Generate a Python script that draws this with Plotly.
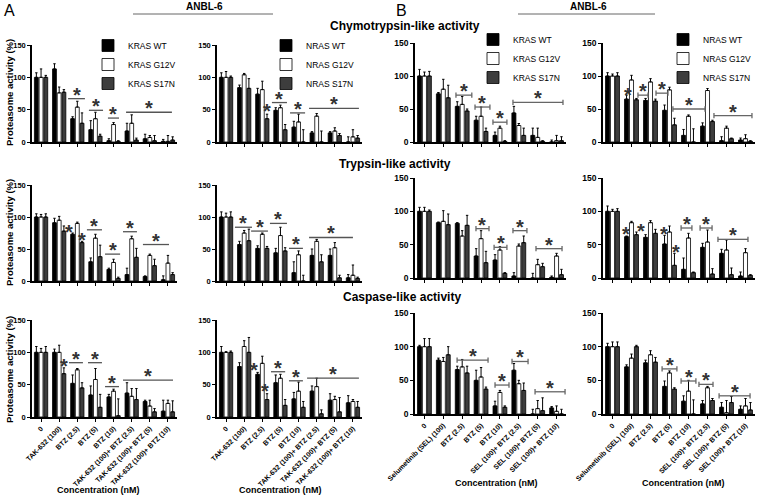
import plotly.graph_objects as go

W, H = 757, 498

# ---------------- data ----------------
cat_A = ["0", "TAK-632 (100)", "BTZ (2.5)", "BTZ (5)", "BTZ (10)",
         "TAK-632 (100)+ BTZ (2.5)", "TAK-632 (100)+ BTZ (5)", "TAK-632 (100)+ BTZ (10)"]
cat_B = ["0", "Selumetinib (SEL) (100)", "BTZ (2.5)", "BTZ (5)", "BTZ (10)",
         "SEL (100)+ BTZ (2.5)", "SEL (100)+ BTZ (5)", "SEL (100)+ BTZ (10)"]
series_KRAS = ["KRAS WT", "KRAS G12V", "KRAS S17N"]
series_NRAS = ["NRAS WT", "NRAS G12V", "NRAS S17N"]
activities = ["Chymotrypsin-like activity", "Trypsin-like activity", "Caspase-like activity"]
y_ticks = [0, 50, 100, 150]

# mean proteasome activity (%)  [WT, G12V, S17N] and upper error
A_chymo_KRAS = [[100, 113, 36, 19, 2, 17, 5, 1],
                [100, 76, 54, 36, 27, 29, 7, 1],
                [100, 77, 29, 9, 1, 3, 2, 3]]
A_chymo_KRAS_err = [[7, 8, 3, 14, 3, 12, 7, 3],
                    [13, 9, 9, 10, 3, 13, 3, 9],
                    [3, 4, 16, 3, 1, 3, 8, 5]]
A_chymo_NRAS = [[100, 84, 74, 49, 23, 14, 14, 0],
                [100, 104, 81, 53, 31, 40, 17, 8],
                [100, 83, 36, 19, 0, 0, 10, 6]]
A_chymo_NRAS_err = [[7, 4, 9, 4, 9, 2, 2, 8],
                    [9, 2, 13, 4, 12, 4, 5, 11],
                    [2, 15, 7, 8, 19, 17, 3, 4]]
B_chymo_KRAS = [[100, 73, 54, 33, 10, 44, 10, 0],
                [100, 80, 57, 39, 21, 25, 7, 2],
                [100, 67, 47, 16, 1, 10, 1, 2]]
B_chymo_KRAS_err = [[10, 2, 7, 6, 5, 10, 11, 3],
                    [6, 15, 12, 14, 3, 3, 14, 8],
                    [7, 19, 3, 5, 1, 11, 1, 6]]
B_chymo_NRAS = [[100, 65, 63, 48, 10, 24, 2, 3],
                [100, 94, 91, 79, 39, 78, 21, 5],
                [100, 64, 62, 26, 0, 31, 5, 1]]
B_chymo_NRAS_err = [[5, 6, 3, 8, 9, 5, 6, 3],
                    [3, 7, 5, 4, 2, 3, 3, 6],
                    [5, 2, 3, 10, 20, 2, 1, 1]]

A_tryp_KRAS = [[100, 91, 73, 30, 18, 10, 7, 2],
               [100, 95, 90, 67, 29, 66, 40, 28],
               [100, 78, 60, 38, 4, 37, 24, 10]]
A_tryp_KRAS_err = [[5, 7, 2, 6, 2, 10, 1, 6],
                   [4, 6, 2, 6, 5, 4, 2, 12],
                   [5, 8, 2, 18, 2, 14, 10, 3]]
A_tryp_NRAS = [[100, 57, 51, 44, 13, 40, 40, 5],
               [100, 75, 73, 71, 41, 62, 52, 9],
               [100, 63, 51, 47, 0, 30, 5, 4]]
A_tryp_NRAS_err = [[8, 5, 4, 7, 17, 10, 10, 5],
                   [6, 4, 2, 13, 6, 3, 8, 16],
                   [8, 18, 3, 5, 9, 11, 4, 2]]
B_tryp_KRAS = [[100, 83, 82, 33, 27, 3, 0, 1],
               [100, 85, 63, 59, 42, 48, 20, 33],
               [100, 80, 79, 23, 7, 53, 17, 5]]
B_tryp_KRAS_err = [[6, 1, 1, 11, 8, 5, 7, 2],
                   [6, 16, 8, 12, 5, 3, 8, 4],
                   [2, 16, 15, 17, 1, 10, 5, 8]]
B_tryp_NRAS = [[100, 62, 61, 51, 13, 46, 37, 3],
               [100, 83, 83, 69, 60, 54, 42, 38],
               [100, 65, 67, 19, 8, 6, 5, 4]]
B_tryp_NRAS_err = [[8, 1, 4, 13, 17, 6, 6, 6],
                   [3, 2, 3, 9, 7, 18, 15, 6],
                   [4, 4, 6, 18, 1, 8, 10, 1]]

A_casp_KRAS = [[100, 100, 52, 34, 31, 37, 24, 9],
               [100, 100, 73, 58, 40, 32, 17, 21],
               [100, 67, 45, 15, 2, 27, 8, 8]]
A_casp_KRAS_err = [[9, 5, 13, 14, 4, 16, 2, 17],
                   [6, 11, 2, 17, 3, 12, 9, 5],
                   [9, 9, 8, 20, 26, 17, 5, 17]]
A_casp_NRAS = [[100, 78, 66, 53, 28, 40, 26, 22],
               [100, 109, 83, 60, 40, 47, 27, 24],
               [100, 100, 27, 18, 15, 5, 8, 15]]
A_casp_NRAS_err = [[9, 6, 3, 12, 10, 8, 10, 11],
                   [1, 9, 11, 6, 14, 13, 5, 3],
                   [2, 23, 9, 9, 9, 6, 22, 9]]
B_casp_KRAS = [[100, 80, 66, 50, 12, 65, 0, 9],
               [100, 78, 70, 55, 32, 45, 8, 4],
               [100, 88, 61, 37, 10, 35, 5, 0]]
B_casp_KRAS_err = [[2, 3, 5, 15, 7, 10, 7, 2],
                   [12, 6, 11, 14, 3, 5, 12, 8],
                   [12, 12, 10, 3, 2, 11, 19, 7]]
B_casp_NRAS = [[100, 70, 76, 41, 19, 15, 10, 7],
               [100, 83, 88, 61, 34, 39, 2, 12],
               [100, 100, 77, 37, 0, 20, 17, 6]]
B_casp_NRAS_err = [[5, 3, 4, 8, 8, 5, 7, 5],
                   [7, 6, 6, 3, 16, 2, 18, 11],
                   [7, 2, 7, 2, 21, 3, 9, 11]]

# significance brackets (from group, to group, level) and lone stars (group, level)
A_chymo_KRAS_sig = [(1.49, 2.42, 67), (2.64, 3.42, 49), (3.69, 4.30, 37), (4.69, 7.22, 46)]
A_chymo_NRAS_sig = [(2.53, 3.36, 61), (3.53, 4.36, 45), (4.58, 7.33, 52)]
B_chymo_KRAS_sig = [(1.67, 2.51, 71), (2.68, 3.47, 53), (3.63, 4.37, 30), (4.69, 7.34, 60)]
B_chymo_NRAS_sig = [(1.34, 1.87, 71), (2.29, 2.92, 74), (3.18, 4.87, 50), (5.34, 7.34, 40)]
A_tryp_KRAS_sig = [(2.53, 3.36, 80), (3.53, 4.36, 42), (4.52, 5.29, 77), (5.62, 7.06, 57)]
A_tryp_NRAS_sig = [(0.49, 1.43, 84), (1.38, 2.31, 78), (2.42, 3.36, 90), (3.47, 4.24, 51), (4.58, 7.0, 68)]
B_tryp_KRAS_sig = [(2.73, 3.42, 74), (3.69, 4.37, 46), (4.69, 5.43, 71), (5.91, 7.29, 44)]
B_tryp_NRAS_sig = [(3.61, 4.18, 75), (4.61, 5.24, 75), (5.55, 7.13, 58)]
A_casp_KRAS_sig = [(1.54, 2.31, 84), (2.59, 3.36, 84), (3.53, 4.30, 47), (4.52, 7.28, 57)]
A_casp_NRAS_sig = [(2.48, 3.26, 70), (3.47, 4.24, 56), (4.47, 7.33, 60)]
B_casp_KRAS_sig = [(1.73, 3.37, 80), (3.74, 4.48, 43), (4.64, 5.49, 78), (5.86, 7.45, 33)]
B_casp_NRAS_sig = [(2.61, 3.39, 67), (3.61, 4.39, 49), (4.55, 5.29, 44), (5.61, 7.24, 27)]

A_chymo_NRAS_star = [(2.26, 52)]
B_chymo_NRAS_star = [(0.80, 76)]
A_tryp_KRAS_star = [(1.56, 82), (2.24, 68)]
B_tryp_NRAS_star = [(0.71, 70), (1.50, 75), (2.73, 70), (3.34, 44)]
A_casp_KRAS_star = [(1.28, 84)]
A_casp_NRAS_star = [(1.56, 78), (2.15, 45)]

panels = [
    # row 0
    (A_chymo_KRAS, A_chymo_KRAS_err, A_chymo_KRAS_sig, [], cat_A, series_KRAS),
    (A_chymo_NRAS, A_chymo_NRAS_err, A_chymo_NRAS_sig, A_chymo_NRAS_star, cat_A, series_NRAS),
    (B_chymo_KRAS, B_chymo_KRAS_err, B_chymo_KRAS_sig, [], cat_B, series_KRAS),
    (B_chymo_NRAS, B_chymo_NRAS_err, B_chymo_NRAS_sig, B_chymo_NRAS_star, cat_B, series_NRAS),
    # row 1
    (A_tryp_KRAS, A_tryp_KRAS_err, A_tryp_KRAS_sig, A_tryp_KRAS_star, cat_A, series_KRAS),
    (A_tryp_NRAS, A_tryp_NRAS_err, A_tryp_NRAS_sig, [], cat_A, series_NRAS),
    (B_tryp_KRAS, B_tryp_KRAS_err, B_tryp_KRAS_sig, [], cat_B, series_KRAS),
    (B_tryp_NRAS, B_tryp_NRAS_err, B_tryp_NRAS_sig, B_tryp_NRAS_star, cat_B, series_NRAS),
    # row 2
    (A_casp_KRAS, A_casp_KRAS_err, A_casp_KRAS_sig, A_casp_KRAS_star, cat_A, series_KRAS),
    (A_casp_NRAS, A_casp_NRAS_err, A_casp_NRAS_sig, A_casp_NRAS_star, cat_A, series_NRAS),
    (B_casp_KRAS, B_casp_KRAS_err, B_casp_KRAS_sig, [], cat_B, series_KRAS),
    (B_casp_NRAS, B_casp_NRAS_err, B_casp_NRAS_sig, [], cat_B, series_NRAS),
]

# ---------------- layout geometry (pixels) ----------------
col_px = [(32, 177), (217, 362), (415, 566), (603, 755)]
row_px_A = [(45, 142), (185, 281), (320, 417)]
row_px_B = [(43, 142), (178, 278), (313, 414)]
fills = ["#000000", "#ffffff", "#3d3d3d"]
FONT = "Liberation Sans, Arial, sans-serif"

def px_x(p):
    return p / W

def px_y(p):
    return 1 - p / H

fig = go.Figure()
shapes = []
annotations = []
legend_names = ["legend", "legend2", "legend3", "legend4"]

for i, (means, errs, sig, stars, cats, names) in enumerate(panels):
    r, c = divmod(i, 4)
    n = i + 1
    xa = "x" if n == 1 else f"x{n}"
    ya = "y" if n == 1 else f"y{n}"
    for s in range(3):
        fig.add_trace(go.Bar(
            x=cats, y=means[s], name=names[s],
            marker=dict(color=fills[s], line=dict(color="black", width=0.8)),
            error_y=dict(type="data", array=errs[s], arrayminus=[0] * len(errs[s]),
                         symmetric=False, color="black", thickness=1, width=1.2),
            xaxis=xa, yaxis=ya,
            legend=legend_names[c], showlegend=(r == 0),
        ))
    isA = c < 2
    x0, x1 = col_px[c]
    top, bot = (row_px_A if isA else row_px_B)[r]
    tsize = 7.5 if isA else 8.5
    xkey = "xaxis" if n == 1 else f"xaxis{n}"
    ykey = "yaxis" if n == 1 else f"yaxis{n}"
    fig.layout[xkey] = dict(
        domain=[px_x(x0), px_x(x1)], anchor=ya, type="category", automargin=False,
        range=[-0.5, 7.5], showline=True, linecolor="black", linewidth=1.5,
        ticks="outside", ticklen=3, tickwidth=1, tickcolor="black",
        showticklabels=(r == 2), tickangle=-45,
        tickfont=dict(family=FONT, size=7, color="black", weight="bold"),
        showgrid=False, zeroline=False, fixedrange=True)
    fig.layout[ykey] = dict(
        domain=[px_y(bot), px_y(top)], anchor=xa, range=[0, 150], automargin=False,
        tickvals=y_ticks, showline=True, linecolor="black", linewidth=1.5,
        ticks="outside", ticklen=3, tickwidth=1, tickcolor="black",
        tickfont=dict(family=FONT, size=tsize, color="black", weight="bold"),
        showgrid=False, zeroline=False, fixedrange=True)

    line_col = "#555555" if isA else "#666666"
    for (a, b, lvl) in sig:
        shapes.append(dict(type="line", xref=xa, yref=ya, x0=a, x1=b, y0=lvl, y1=lvl,
                           line=dict(color=line_col, width=1.3)))
        if not isA:
            for e in (a, b):
                shapes.append(dict(type="line", xref=xa, yref=ya, x0=e, x1=e,
                                   y0=lvl - 4, y1=lvl + 4,
                                   line=dict(color=line_col, width=1.3)))
        annotations.append(dict(x=(a + b) / 2, y=lvl, xref=xa, yref=ya, text="*",
                                showarrow=False, yanchor="middle", yshift=4,
                                font=dict(family=FONT, size=20, color="#333333", weight="bold")))
    for (a, lvl) in stars:
        annotations.append(dict(x=a, y=lvl, xref=xa, yref=ya, text="*",
                                showarrow=False, yanchor="middle", yshift=-3,
                                font=dict(family=FONT, size=20, color="#333333", weight="bold")))

# titles and labels
def ann(text, x, y, size, bold=True, angle=0, xanchor="center", color="black"):
    annotations.append(dict(text=text, x=px_x(x), y=px_y(y), xref="paper", yref="paper",
                            showarrow=False, xanchor=xanchor, yanchor="middle", textangle=angle,
                            font=dict(family=FONT, size=size, color=color,
                                      weight="bold" if bold else "normal")))

ann("A", 2, 10, 16, bold=False, xanchor="left")
ann("B", 394, 10, 16, bold=False, xanchor="left")
ann("ANBL-6", 204, 7, 10)
ann("ANBL-6", 588, 7, 10)
shapes.append(dict(type="line", xref="paper", yref="paper", x0=px_x(133), x1=px_x(273),
                   y0=px_y(14), y1=px_y(14), line=dict(color="#666666", width=1)))
shapes.append(dict(type="line", xref="paper", yref="paper", x0=px_x(518), x1=px_x(655),
                   y0=px_y(14), y1=px_y(14), line=dict(color="#666666", width=1)))
ann(activities[0], 405, 26, 12)
ann(activities[1], 395, 164, 12)
ann(activities[2], 402, 297, 12)
for yc in (93, 233, 370):
    ann("Proteasome activity (%)", 9, yc, 9.5, angle=-90)
for (xc, yc) in ((98, 490), (280, 490), (496, 483), (683, 483)):
    ann("Concentration (nM)", xc, yc, 9)

legend_pos = [(88, 31), (266, 31), (473, 25), (663, 25)]
legend_layout = {}
for k, (lx, ly) in enumerate(legend_pos):
    legend_layout[legend_names[k]] = dict(
        x=px_x(lx), y=px_y(ly), xanchor="left", yanchor="top",
        bgcolor="rgba(0,0,0,0)", font=dict(family=FONT, size=8.5, color="black"),
        tracegroupgap=0, itemclick=False, itemdoubleclick=False)

fig.update_layout(
    width=W, height=H, margin=dict(l=0, r=0, t=0, b=0, autoexpand=False),
    paper_bgcolor="white", plot_bgcolor="white",
    barmode="group", bargap=0.22, bargroupgap=0.18,
    shapes=shapes, annotations=annotations, showlegend=True,
    font=dict(family=FONT, color="black"),
    **legend_layout,
)

fig.write_html("out.html", config={"displayModeBar": False},
               post_script="document.body.style.margin='0';document.body.style.overflow='hidden';")
